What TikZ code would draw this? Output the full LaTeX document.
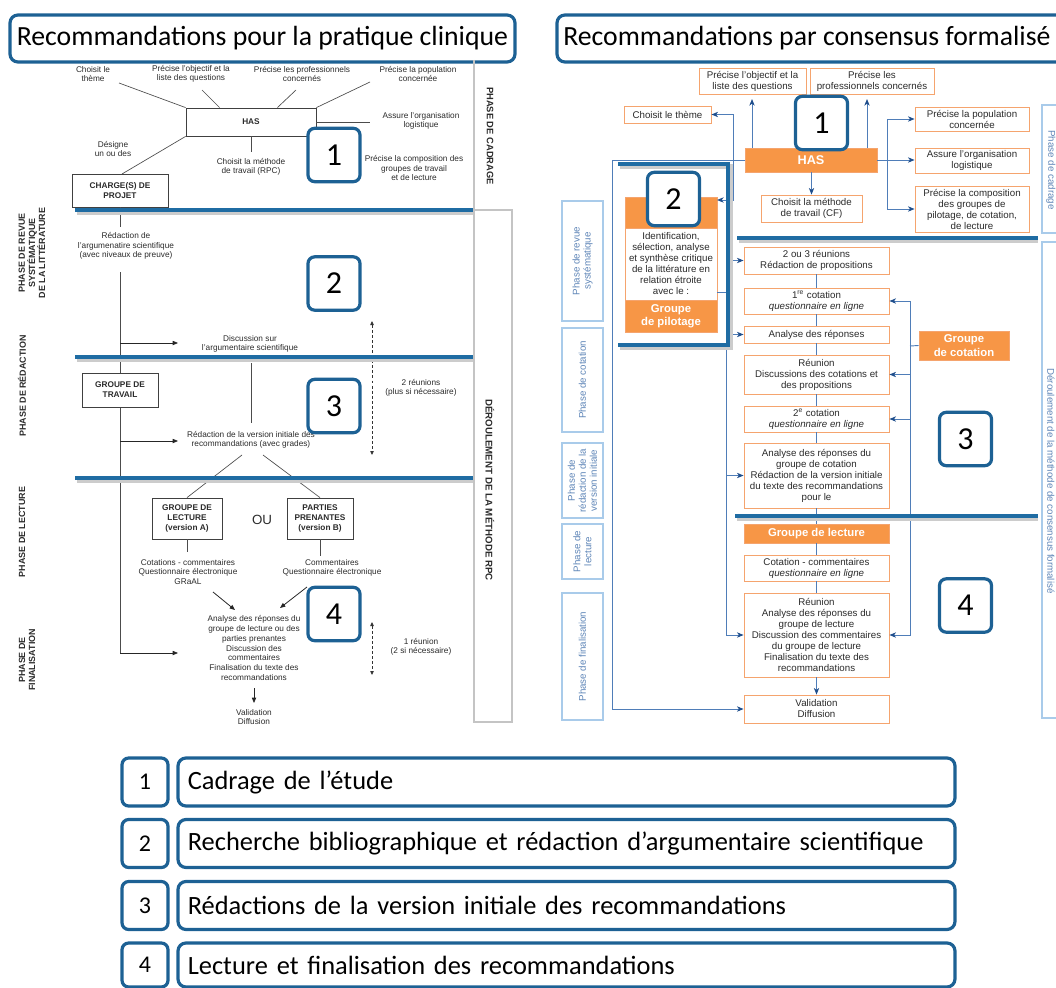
\documentclass[tikz,border=0pt]{standalone}
\usepackage{fontspec}
\setmainfont{Liberation Sans}
\newfontfamily\calfont{Carlito}
\usetikzlibrary{arrows.meta,calc}

\definecolor{frameblue}{HTML}{1D6194}
\definecolor{sepblue}{HTML}{1F6CA3}
\definecolor{orfill}{HTML}{F79646}
\definecolor{orline}{HTML}{F5A46E}
\definecolor{cfline}{HTML}{4F7DB8}
\definecolor{cfhead}{HTML}{1F4E8C}
\definecolor{phline}{HTML}{A9CBEA}
\definecolor{phtext}{HTML}{5F86B8}
\definecolor{rpcgray}{HTML}{C4C4C4}
\definecolor{inkgray}{HTML}{2B2B2B}

\tikzset{
  x=0.75pt, y=-0.75pt,
  % box given by its corners: left:top:right:bottom
  corners/.style args={#1:#2:#3:#4}{at={({(#1+#3)/2},{(#2+#4)/2})},
    minimum width={(#3-#1)*0.75pt}, minimum height={(#4-#2)*0.75pt}},
  % RPC flow
  rtxt/.style={font=\fontsize{6.2}{7.2}\selectfont, text=inkgray, align=center, inner sep=0pt},
  rbox/.style={draw=black!75, line width=0.6pt, fill=white, inner sep=0pt, text=inkgray,
    font=\fontsize{6.2}{7.4}\selectfont\bfseries, align=center},
  rline/.style={draw=black!70, line width=0.5pt},
  rarrow/.style={draw=black!85, line width=0.6pt, -{Triangle[length=4pt,width=3.2pt]}},
  rdash/.style={draw=black!80, line width=0.6pt, dash pattern=on 2.2pt off 1.6pt,
    {Triangle[length=3pt,width=2.6pt]}-{Triangle[length=3pt,width=2.6pt]}},
  rphase/.style={font=\fontsize{6.7}{7.6}\selectfont\bfseries, text=inkgray, align=center, inner sep=0pt},
  rstrip/.style={draw=rpcgray, line width=0.8pt},
  % CF flow
  cbox/.style={draw=orline, line width=0.6pt, fill=white, inner sep=0pt, text=inkgray,
    font=\fontsize{7.3}{8.25}\selectfont, align=center},
  cfull/.style={draw=orline, line width=0.6pt, fill=orfill, inner sep=0pt, text=white,
    font=\fontsize{8.5}{10}\selectfont\bfseries, align=center},
  cline/.style={draw=cfline, line width=0.7pt},
  carrow/.style={cline, -{Stealth[length=5pt,width=4pt,inset=1.5pt,color=cfhead]}},
  cphase/.style={draw=phline, line width=0.8pt, fill=white, inner sep=0pt},
  cphtext/.style={font=\fontsize{7.3}{8.25}\selectfont, text=phtext, align=center, inner sep=0pt},
  % separators, frames, badges
  sepline/.style={draw=sepblue, line width=3pt},
  sepshade/.style={draw=black!20, line width=3pt},
  frame/.style={draw=frameblue, line width=2.4pt, rounded corners=6pt, fill=white, inner sep=0pt},
  badge/.style={frame, rounded corners=5pt, minimum width=39pt, minimum height=40pt,
    font=\calfont\fontsize{24}{24}\selectfont, text=black},
  keybadge/.style={badge, minimum width=34.5pt, minimum height=36pt, font=\calfont\fontsize{18}{18}\selectfont},
  keybox/.style={frame, minimum width=582.75pt, minimum height=36pt, inner xsep=7pt,
    text width=568pt, align=left, font=\calfont\fontsize{19.8}{21}\selectfont, text=black},
  titletext/.style={font=\calfont\fontsize{20.8}{22}\selectfont, text=black, inner sep=0pt}
}

\begin{document}
\begin{tikzpicture}
\useasboundingbox (0,0) rectangle (1056,988);

% ================= titles =================
\node[frame, corners=10:15:515:62] (t-rpc) {};
\node[titletext] (t-rpc-txt) at (t-rpc) {Recommandations pour la pratique clinique};
\node[frame, corners=557:15:1078:62] (t-cf) {};
\node[titletext, anchor=west] (t-cf-txt) at (563,38.5) {Recommandations par consensus formalisé};

% ================= RPC (left) =================
% side strips
\draw[rstrip] (474,60) -- (474,722) -- (512,722) -- (512,210) -- (474,210);
\node[rphase, rotate=-90, font=\fontsize{7}{8}\selectfont\bfseries] (rpc-cad) at (490,136) {PHASE DE CADRAGE};
\node[rphase, rotate=-90, font=\fontsize{7.3}{8}\selectfont\bfseries] (rpc-der) at (490,490) {DÉROULEMENT DE LA MÉTHODE RPC};

% phase labels
\node[rphase, rotate=90] (rpc-p1) at (32,253) {PHASE DE REVUE\\SYSTÉMATIQUE\\DE LA LITTÉRATURE};
\node[rphase, rotate=90] (rpc-p2) at (22,386) {PHASE DE RÉDACTION};
\node[rphase, rotate=90] (rpc-p3) at (22,532) {PHASE DE LECTURE};
\node[rphase, rotate=90] (rpc-p4) at (27,660) {PHASE DE\\FINALISATION};

% framing stage
\node[rtxt] (l-theme) at (93,74) {Choisit le\\thème};
\node[rtxt] (l-obj) at (191,74) {Précise l'objectif et la\\liste des questions};
\node[rtxt] (l-pro) at (302,74) {Précise les professionnels\\concernés};
\node[rtxt] (l-pop) at (418,74) {Précise la population\\concernée};
\node[rbox, corners=186:108:316:136] (l-has) {HAS};
\node[rtxt] (l-log) at (421,121) {Assure l'organisation\\logistique};
\node[rtxt] (l-des) at (113,149) {Désigne\\un ou des};
\node[rtxt] (l-meth) at (251,167) {Choisit la méthode\\de travail (RPC)};
\node[rtxt] (l-comp) at (414,168) {Précise la composition des\\groupes de travail\\et de lecture};

\coordinate (h-theme) at (119,83);
\coordinate (h-obj) at (202,90);
\coordinate (h-pro) at (296,90);
\coordinate (h-pop) at (370,82);
\coordinate (h-log) at (370,122);
\coordinate (h-meth) at (251,152);
\coordinate (h-des) at (122,174);
\draw[rline] (l-has.north west) -- (h-theme);
\draw[rline] ([xshift=25.5pt]l-has.north west) -- (h-obj);
\draw[rline] ([xshift=-29.25pt]l-has.north east) -- (h-pro);
\draw[rline] (l-has.north east) -- (h-pop);
\draw[rline] (l-has.east) -- (h-log);
\draw[rline] (l-has.south) -- (h-meth);
\draw[rline] (l-has.south west) -- (h-des);

\node[rbox, corners=72:174:168:207] (l-chg) {CHARGE(S) DE\\PROJET};

% main thread of the project leader
\coordinate (v-top) at (120,227);
\coordinate (v-mid) at (120,272);
\coordinate (v-bot) at (120,653);
\draw[rline] (l-chg.south) -- (v-top);
\draw[rline] (v-mid) -- (v-bot);
\node[rtxt] (l-redarg) at (126,246) {Rédaction de\\l'argumenatire scientifique\\(avec niveaux de preuve)};

\coordinate (a-disc) at (178,343);
\coordinate (a-red) at (178,441);
\coordinate (a-fin) at (178,653);
\draw[rarrow] (v-mid |- a-disc) -- (a-disc);
\draw[rarrow] (v-mid |- a-red) -- (a-red);
\draw[rarrow] (v-bot) -- (a-fin);

\node[rtxt] (l-disc) at (250,344) {Discussion sur\\l'argumentaire scientifique};
\node[rbox, corners=82:373:158:407] (l-gt) {GROUPE DE\\TRAVAIL};
\coordinate (d-top) at (251,363);
\coordinate (d-bot) at (251,423);
\draw[rline] (d-top) -- (d-bot);
\node[rtxt] (l-red) at (251,440) {Rédaction de la version initiale des\\recommandations (avec grades)};

\coordinate (dd1) at (372,321);
\coordinate (dd2) at (372,455);
\draw[rdash] (dd1) -- (dd2);
\node[rtxt] (l-reu2) at (421,388) {2 réunions\\(plus si nécessaire)};

% reading stage
\node[rbox, corners=152:498:222:539] (l-gl) {GROUPE DE\\LECTURE\\(version A)};
\node[rbox, corners=287:498:353:539] (l-pp) {PARTIES\\PRENANTES\\(version B)};
\node[rtxt, font=\fontsize{10}{12}\selectfont] (l-ou) at (262,520) {OU};
\coordinate (s-l) at (242,455);
\coordinate (s-r) at (263,455);
\draw[rline] (s-l) -- (l-gl.north);
\draw[rline] (s-r) -- (l-pp.north);
\draw[rline] (l-gl.south) -- ++(0,13);
\draw[rline] (l-pp.south) -- ++(0,17);
\node[rtxt] (l-glc) at (188,572) {Cotations - commentaires\\Questionnaire électronique\\GRaAL};
\node[rtxt] (l-ppc) at (332,568) {Commentaires\\Questionnaire électronique};

\coordinate (g-a) at (213,592);
\coordinate (g-b) at (235,610);
\coordinate (p-a) at (307,587);
\coordinate (p-b) at (280,608);
\draw[rarrow] (g-a) -- (g-b);
\draw[rarrow] (p-a) -- (p-b);

\node[rtxt, font=\fontsize{6.2}{7.3}\selectfont] (l-fin) at (254,648) {Analyse des réponses du\\groupe de lecture ou des\\parties prenantes\\Discussion des\\commentaires\\Finalisation du texte des\\recommandations};
\coordinate (f-a) at (254,688);
\coordinate (f-b) at (254,703);
\draw[rarrow] (f-a) -- (f-b);
\node[rtxt] (l-val) at (254,717) {Validation\\Diffusion};

\coordinate (dd3) at (372,622);
\coordinate (dd4) at (372,675);
\draw[rdash] (dd3) -- (dd4);
\node[rtxt] (l-reu1) at (421,647) {1 réunion\\(2 si nécessaire)};

% stage separators
\foreach \yy in {210,357,478}{
  \draw[sepshade] (77,\yy+2.5) -- (473,\yy+2.5);
  \draw[sepline] (75,\yy) -- (473,\yy);
}

% ================= CF (right) =================
% side strips
\node[cphase, corners=1042:105:1075:233] (c-scad) {};
\node[cphase, corners=1042:242:1075:718] (c-sder) {};
\node[cphtext, rotate=-90] (c-scad-t) at (1051,170) {Phase de cadrage};
\node[cphtext, rotate=-90] (c-sder-t) at (1051,481) {Déroulement de la méthode de consensus formalisé};

\node[cphase, corners=562:201:603:321] (c-p1) {};
\node[cphase, corners=562:328:603:432] (c-p2) {};
\node[cphase, corners=562:443:603:518] (c-p3) {};
\node[cphase, corners=562:524:603:579] (c-p4) {};
\node[cphase, corners=562:593:603:720] (c-p5) {};
\node[cphtext, rotate=90] (c-p1-t) at (c-p1) {Phase de revue\\systématique};
\node[cphtext, rotate=90] (c-p2-t) at (c-p2) {Phase de cotation};
\node[cphtext, rotate=90] (c-p3-t) at (c-p3) {Phase de\\rédaction de la\\version initiale};
\node[cphtext, rotate=90] (c-p4-t) at (c-p4) {Phase de\\lecture};
\node[cphtext, rotate=90] (c-p5-t) at (c-p5) {Phase de finalisation};

% framing stage
\node[cbox, corners=699:68:806:94] (c-obj) {Précise l'objectif et la\\liste des questions};
\node[cbox, corners=810:68:934:94] (c-pro) {Précise les\\professionnels concernés};
\node[cbox, corners=624:106:711:123] (c-theme) {Choisit le thème};
\node[cfull, corners=745:148:877:172, font=\fontsize{9.5}{11}\selectfont\bfseries] (c-has) {HAS};
\node[cbox, corners=761:195:862:222] (c-meth) {Choisit la méthode\\de travail (CF)};
\node[cbox, corners=915:107:1029:131] (c-pop) {Précise la population\\concernée};
\node[cbox, corners=915:148:1029:173] (c-log) {Assure l'organisation\\logistique};
\node[cbox, corners=915:186:1029:232] (c-comp) {Précise la composition\\des groupes de\\pilotage, de cotation,\\de lecture};

% steering group
\node[cfull, corners=625:197:717:228] (c-piltop) {};
\node[cbox, corners=625:228:717:300] (c-pilmid) {Identification,\\sélection, analyse\\et synthèse critique\\de la littérature en\\relation étroite\\avec le :};
\node[cfull, corners=625:300:717:332] (c-pilbot) {Groupe\\de pilotage};

% main sequence
\node[cbox, corners=744:247:889:274] (c-r1) {2 ou 3 réunions\\Rédaction de propositions};
\node[cbox, corners=744:288:889:314] (c-cot1) {1\textsuperscript{re} cotation\\\textit{questionnaire en ligne}};
\node[cbox, corners=744:326:889:343] (c-ana) {Analyse des réponses};
\node[cbox, corners=744:355:889:394] (c-reu) {Réunion\\Discussions des cotations et\\des propositions};
\node[cbox, corners=744:406:889:432] (c-cot2) {2\textsuperscript{e} cotation\\\textit{questionnaire en ligne}};
\node[cbox, corners=744:443:889:508] (c-redv) {Analyse des réponses du\\groupe de cotation\\Rédaction de la version initiale\\du texte des recommandations\\pour le};
\node[cfull, corners=744:524:889:543] (c-gl) {Groupe de lecture};
\node[cbox, corners=744:555:889:581] (c-cot3) {Cotation - commentaires\\\textit{questionnaire en ligne}};
\node[cbox, corners=744:593:889:677] (c-reu2) {Réunion\\Analyse des réponses du\\groupe de lecture\\Discussion des commentaires\\du groupe de lecture\\Finalisation du texte des\\recommandations};
\node[cbox, corners=744:695:889:723] (c-val) {Validation\\Diffusion};
\node[cfull, corners=919:331:1009:360] (c-gc) {Groupe\\de cotation};

% connectors
\coordinate (xL) at (612,0);
\coordinate (jL) at (733,160);
\coordinate (jR) at (887,160);
\coordinate (jP) at (726,292);
\coordinate (jC) at (910,346);
\coordinate (pilin) at (717,200);
\coordinate (up-l) at (752,99);
\coordinate (up-r) at (867,99);

\draw[carrow] (c-has.west) -- (c-has.west -| xL) |- (c-val.west);
\draw[carrow] (jL) |- (c-theme.east);
\draw[carrow] (jL) |- (pilin);
\draw[carrow] (c-has.north -| up-l) -- (up-l);
\draw[carrow] (c-has.north -| up-r) -- (up-r);
\draw[carrow] (c-has.south -| c-meth.north) -- (c-meth.north);
\draw[cline] (c-has.east) -- (jR);
\draw[carrow] (jR) |- (c-pop.west);
\draw[carrow] (jR) -- (c-log.west |- jR);
\draw[carrow] (jR) |- (c-comp.west);
\draw[cline] (c-pilmid.east |- jP) -- (jP);
\draw[carrow] (jP) |- (c-r1.west);
\draw[carrow] (jP) |- (c-ana.west);
\draw[carrow] (jP) |- (c-redv.west);
\draw[carrow] (jP) |- (c-reu2.west);
\draw[cline] (c-gc.west) -- (jC);
\draw[carrow] (jC) |- (c-cot1.east);
\draw[carrow] (jC) |- (c-reu.east);
\draw[carrow] (jC) |- (c-cot2.east);
\draw[carrow] (jC) |- (c-reu2.east);
\draw[cline] (c-r1) -- (c-cot1) -- (c-ana) -- (c-reu) -- (c-cot2) -- (c-redv) -- (c-gl) -- (c-cot3) -- (c-reu2);
\draw[carrow] (c-reu2) -- (c-val);

% steering bracket and separators
\draw[sepshade, line width=3.5pt] (620,166.5) -| (730.5,347.5) -- (620,347.5);
\draw[sepline, line width=3.5pt] (618,164) -| (728,345) -- (618,345);
\draw[sepshade] (739,240.5) -- (1038,240.5);
\draw[sepline] (737,238) -- (1038,238);
\draw[sepshade] (737,518.5) -- (1038,518.5);
\draw[sepline] (735,516) -- (1038,516);

% ================= numbered markers =================
\node[badge] (b1) at (334,155) {1};
\node[badge] (b2) at (334,283.5) {2};
\node[badge] (b3) at (334,406) {3};
\node[badge] (b4) at (334,614) {4};
\node[badge] (c1) at (821.5,123) {1};
\node[badge] (c2) at (673.5,199) {2};
\node[badge] (c3) at (965.5,439) {3};
\node[badge] (c4) at (965.5,605.5) {4};

% ================= key =================
\node[keybadge] (k1) at (145,782) {1};
\node[keybox] (k1t) at (566.5,782) {Cadrage de l’étude};
\node[keybadge] (k2) at (145,843.5) {2};
\node[keybox] (k2t) at (566.5,843.5) {Recherche bibliographique et rédaction d’argumentaire scientifique};
\node[keybadge] (k3) at (145,905.5) {3};
\node[keybox] (k3t) at (566.5,905.5) {Rédactions de la version initiale des recommandations};
\node[keybadge, minimum height=33pt] (k4) at (145,965) {4};
\node[keybox, minimum height=33pt] (k4t) at (566.5,965) {Lecture et finalisation des recommandations};
\end{tikzpicture}
\end{document}
